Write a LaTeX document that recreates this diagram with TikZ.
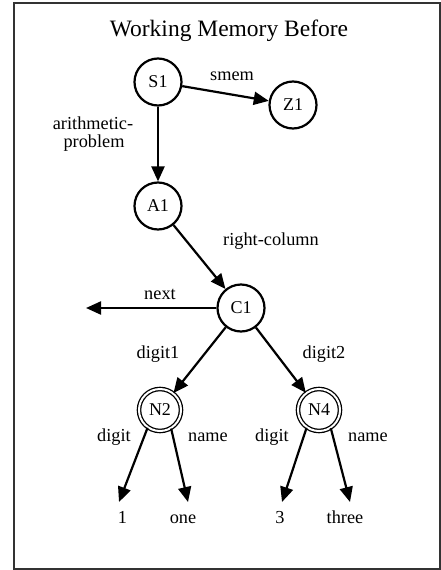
\documentclass[tikz,border=0pt]{standalone}
\usepackage{fontspec}
\setmainfont{Liberation Serif}
\usetikzlibrary{arrows.meta}
\begin{document}
\begin{tikzpicture}[x=1pt,y=-1pt,
  st/.style={circle,draw,line width=2.2pt,minimum size=47pt,inner sep=0pt,font=\fontsize{18}{20}\selectfont},
  dst/.style={circle,draw,double,double distance=2pt,line width=1.3pt,minimum size=42pt,inner sep=0pt,font=\fontsize{18}{20}\selectfont},
  lab/.style={anchor=base,inner sep=0pt,font=\fontsize{18.3}{20}\selectfont},
  conn/.style={line width=2.2pt,-{Triangle[length=15pt,width=13pt]}}]
\useasboundingbox (0,0) rectangle (441,570);
\draw[line width=2pt,black!80] (14,3) rectangle (440,569);
\node[anchor=base,inner sep=0pt,font=\fontsize{23.5}{26}\selectfont] (title) at (229,36) {Working Memory Before};
\node[st] (S1) at (158,82) {S1};
\node[st] (Z1) at (293,105) {Z1};
\node[st] (A1) at (158,206) {A1};
\node[st] (C1) at (241,308) {C1};
\node[dst] (N2) at (160,410) {N2};
\node[dst] (N4) at (319,410) {N4};
\coordinate (nx) at (86,308);
\coordinate (e1) at (119,502);
\coordinate (e2) at (188,502);
\coordinate (e3) at (282,502);
\coordinate (e4) at (350,502);
\node[lab] (l1) at (122.5,523) {1};
\node[lab] (l2) at (183,523) {one};
\node[lab] (l3) at (280,523) {3};
\node[lab] (l4) at (345,523) {three};
\draw[conn] (S1) -- (Z1);
\draw[conn] (S1) -- (A1);
\draw[conn] (A1) -- (C1);
\draw[conn] (C1) -- (nx);
\draw[conn] (C1) -- (N2);
\draw[conn] (C1) -- (N4);
\draw[conn] (N2.235) -- (e1);
\draw[conn] (N2.301) -- (e2);
\draw[conn] (N4.235) -- (e3);
\draw[conn] (N4.303) -- (e4);
\node[lab] (t1) at (232,80) {smem};
\node[lab] (t2) at (93,129) {arithmetic-};
\node[lab] (t3) at (94,147) {problem};
\node[lab] (t4) at (271,245) {right-column};
\node[lab] (t5) at (160,299) {next};
\node[lab] (t6) at (158,358) {digit1};
\node[lab] (t7) at (324,358) {digit2};
\node[lab] (t8) at (114,441) {digit};
\node[lab] (t9) at (208,441) {name};
\node[lab] (t10) at (272,441) {digit};
\node[lab] (t11) at (368,441) {name};
\end{tikzpicture}
\end{document}
